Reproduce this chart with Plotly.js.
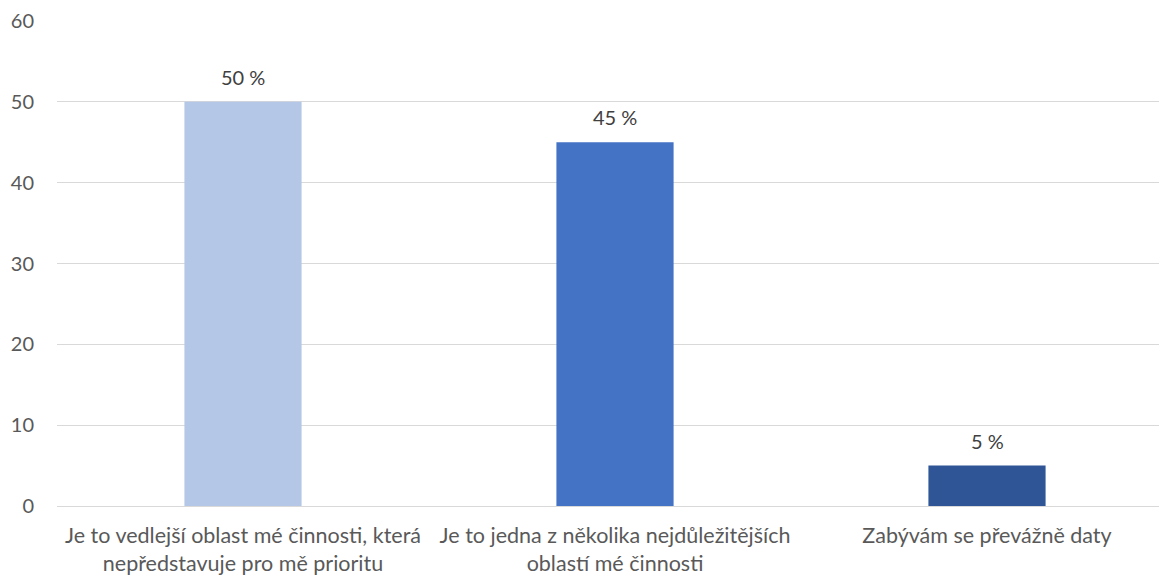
<!DOCTYPE html>
<html>
<head>
<meta charset="utf-8">
<script src="https://cdn.plot.ly/plotly-3.0.1.min.js"></script>
<style>
html,body{margin:0;padding:0;overflow:hidden;background:#fff;}
#chart{width:1173px;height:577px;}
</style>
</head>
<body>
<div id="chart"></div>
<script>
const categories = [
  "Je to vedlejší oblast mé činnosti, která<br>nepředstavuje pro mě prioritu",
  "Je to jedna z několika nejdůležitějších<br>oblastí mé činnosti",
  "Zabývám se převážně daty"
];
const values = [50, 45, 5];
const valueLabels = ["50 %", "45 %", "5 %"];
const barColors = ["#B4C7E7", "#4472C4", "#2F5597"];
const yTicks = [0, 10, 20, 30, 40, 50, 60];

const font = "Lato, 'Open Sans', sans-serif";

const annotations = categories.map((c, i) => ({
  x: c,
  y: values[i],
  text: valueLabels[i],
  showarrow: false,
  yanchor: "middle",
  yshift: 25,
  font: {family: font, size: 20, color: "#404040"}
}));

Plotly.newPlot("chart", [{
  type: "bar",
  x: categories,
  y: values,
  marker: {color: barColors},
  width: 0.315,
  hoverinfo: "none"
}], {
  width: 1173,
  height: 577,
  margin: {l: 57, r: 0, t: 21, b: 71, pad: 0},
  paper_bgcolor: "#ffffff",
  plot_bgcolor: "#ffffff",
  showlegend: false,
  font: {family: font, size: 20, color: "#595959"},
  annotations: annotations,
  xaxis: {
    type: "category",
    showgrid: false,
    showline: true,
    linecolor: "#D9D9D9",
    linewidth: 1,
    ticks: "",
    ticklabelstandoff: 10,
    tickfont: {family: font, size: 21.5, color: "#595959"}
  },
  yaxis: {
    range: [0, 60],
    tickvals: yTicks,
    ticktext: yTicks.map(String),
    showgrid: true,
    gridcolor: "#D9D9D9",
    gridwidth: 1,
    zeroline: false,
    showline: false,
    ticks: "",
    ticklabelstandoff: 22,
    tickfont: {family: font, size: 20, color: "#595959"}
  }
}, {displayModeBar: false, staticPlot: true});
</script>
</body>
</html>
